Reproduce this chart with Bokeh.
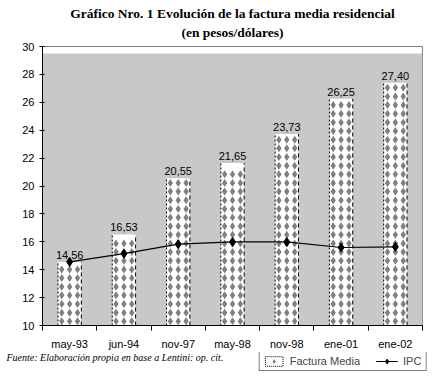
from bokeh.plotting import figure
from bokeh.layouts import column
from bokeh.models import FixedTicker, Range1d, Label, Legend, LegendItem, ColumnDataSource
from bokeh.core.properties import value
from bokeh.embed import file_html
from bokeh.resources import INLINE

categories = ["may-93", "jun-94", "nov-97", "may-98", "nov-98", "ene-01", "ene-02"]
factura_media = [14.56, 16.53, 20.55, 21.65, 23.73, 26.25, 27.40]
ipc = [14.56, 15.15, 15.83, 15.99, 15.99, 15.59, 15.64]
y_ticks = [10, 12, 14, 16, 18, 20, 22, 24, 26, 28, 30]

title_1 = "Gráfico Nro. 1 Evolución de la factura media residencial"
title_2 = "(en pesos/dólares)"
source_note = "Fuente: Elaboración propia en base a Lentini: op. cit."

SANS = "Liberation Sans"
SERIF = "Liberation Serif"
W = 428
HEAD_H, MAIN_H = 40, 312
FOOT_H = 372 - HEAD_H - MAIN_H
BORDER_L, BORDER_R = 42, 6

n = len(categories)
xs = [i + 0.5 for i in range(n)]
bar_w = 0.43
ymin, ymax = 10, 30


def blank(h):
    f = figure(width=W, height=h, x_range=Range1d(0, W), y_range=Range1d(0, h),
               output_backend="svg", toolbar_location=None,
               x_axis_location=None, y_axis_location=None,
               min_border=0, min_border_left=0, min_border_right=0,
               min_border_top=0, min_border_bottom=0, frame_align=False)
    f.grid.visible = False
    f.outline_line_color = None
    return f


# ---- header with the title
head = blank(HEAD_H)
tx = BORDER_L + (W - BORDER_L - BORDER_R) / 2
head.add_layout(Label(x=tx, y=HEAD_H - 13, text=title_1, text_align="center",
                      text_baseline="middle", text_font=SERIF, text_font_style="bold",
                      text_font_size="13.5px", text_color="black"))
head.add_layout(Label(x=tx, y=HEAD_H - 32, text=title_2, text_align="center",
                      text_baseline="middle", text_font=SERIF, text_font_style="bold",
                      text_font_size="13.5px", text_color="black"))

# ---- main chart
p = figure(width=W, height=MAIN_H, x_range=Range1d(0, n), y_range=Range1d(ymin, ymax),
           output_backend="svg", toolbar_location=None,
           min_border_left=BORDER_L, min_border_right=BORDER_R,
           min_border_top=6, min_border_bottom=26, frame_align=False,
           background_fill_color="white", border_fill_color="white")
p.outline_line_color = "#808080"
p.xgrid.visible = False
p.ygrid.visible = False

p.quad(left=[0], right=[n], bottom=[ymin], top=[29.5], fill_color="#c8c8c8", line_color=None)

src = ColumnDataSource(dict(x=xs, top=factura_media,
                            lab=[f"{v:.2f}".replace(".", ",") for v in factura_media]))
p.vbar(x="x", top="top", bottom=ymin, width=bar_w, source=src,
       fill_color="white", line_color=None)
p.segment(x0=[x - bar_w / 2 for x in xs], y0=[ymin] * n,
          x1=[x - bar_w / 2 for x in xs], y1=factura_media,
          line_color="black", line_dash="2 2", line_width=1)
p.segment(x0=[x + bar_w / 2 for x in xs], y0=[ymin] * n,
          x1=[x + bar_w / 2 for x in xs], y1=factura_media,
          line_color="black", line_dash="4 3", line_width=1)

dx, dy = [], []
step = 0.62
for x, top in zip(xs, factura_media):
    yy = ymin + 0.3
    while yy < top - 0.25:
        for off in (-0.145, 0.0, 0.145):
            dx.append(x + off)
            dy.append(yy)
        yy += step
p.scatter(dx, dy, marker="diamond", size=8, fill_color="#808080", line_color=None)

p.line(xs, ipc, line_color="black", line_width=1.2)
p.scatter(xs, ipc, marker="diamond", size=9, fill_color="black", line_color="black")

p.text(x="x", y="top", text="lab", source=src, text_align="center", text_baseline="bottom",
       y_offset=-3, text_font=value(SANS), text_font_size="11px", text_color="black")

xa = p.xaxis[0]
xa.ticker = FixedTicker(ticks=xs, minor_ticks=list(range(n + 1)))
xa.major_label_overrides = {x: c for x, c in zip(xs, categories)}
xa.major_tick_line_color = None
xa.major_tick_out = 0
xa.major_tick_in = 0
xa.minor_tick_out = 5
xa.minor_tick_in = 0
xa.minor_tick_line_color = "black"
xa.major_label_standoff = 7
xa.major_label_text_font = SANS
xa.major_label_text_font_size = "11px"
xa.major_label_text_color = "black"
xa.axis_line_color = "black"

ya = p.yaxis[0]
ya.ticker = FixedTicker(ticks=y_ticks)
ya.major_tick_out = 3
ya.major_tick_in = 2
ya.minor_tick_line_color = None
ya.major_label_standoff = 5
ya.major_label_text_font = SANS
ya.major_label_text_font_size = "11px"
ya.major_label_text_color = "black"
ya.axis_line_color = "black"
ya.major_tick_line_color = "black"

# ---- footer with source note and legend
foot = blank(FOOT_H)
foot.add_layout(Label(x=6, y=FOOT_H - 5, text=source_note, text_align="left",
                      text_baseline="middle", text_font=SERIF, text_font_style="italic",
                      text_font_size="10px", text_color="black"))
off = [-100]
f_bar = foot.vbar(x=off, top=off, bottom=-200, width=1, fill_color="white",
                  line_color="black", line_dash="1 1")
f_dia = foot.scatter(off, off, marker="diamond", size=7, fill_color="#808080", line_color=None)
f_ln = foot.line([-120, -100], [-100, -100], line_color="black", line_width=1.2)
f_pt = foot.scatter(off, off, marker="diamond", size=9, fill_color="black", line_color="black")
legend = Legend(items=[LegendItem(label="Factura Media", renderers=[f_bar, f_dia]),
                       LegendItem(label="IPC", renderers=[f_ln, f_pt])],
                orientation="horizontal", location="bottom_right")
legend.border_line_color = "black"
legend.border_line_width = 1
legend.background_fill_color = "white"
legend.background_fill_alpha = 1
legend.label_text_font = SANS
legend.label_text_font_size = "11px"
legend.glyph_width = 22
legend.glyph_height = 12
legend.spacing = 16
legend.padding = 3
legend.margin = 1
legend.label_standoff = 5
foot.add_layout(legend, "center")

layout = column(head, p, foot, spacing=0)
open("out.html", "w").write(file_html(layout, INLINE))
